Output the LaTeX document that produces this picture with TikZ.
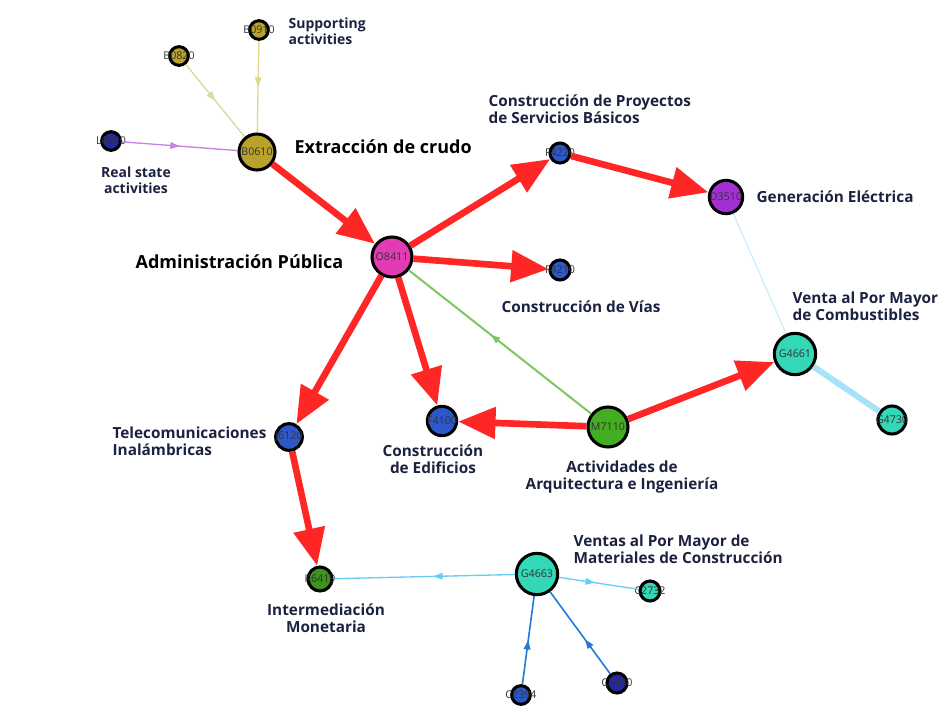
\documentclass[tikz,border=0pt]{standalone}
\usepackage{fontspec}
\setmainfont{Open Sans}
\usepackage{xcolor}
\usetikzlibrary{arrows.meta, positioning, decorations.markings}

\definecolor{rojo}{HTML}{FF2626}
\definecolor{olivo}{HTML}{B8A22C}
\definecolor{rosa}{HTML}{E23CB4}
\definecolor{azul}{HTML}{2C58C8}
\definecolor{azuloscuro}{HTML}{24289C}
\definecolor{morado}{HTML}{A230D2}
\definecolor{turquesa}{HTML}{34D8B6}
\definecolor{verde}{HTML}{44AE22}
\definecolor{tinta}{HTML}{1C2140}
\definecolor{pajizo}{HTML}{DCD88C}
\definecolor{limon}{HTML}{D2DC9C}

\newcommand{\codigo}[1]{\makebox[0pt]{#1}}

\tikzset{
  sector/.style={circle, draw=black, line width=2.3pt, inner sep=0pt,
    font=\fontsize{8}{8}\selectfont, text=black!80},
  etiqueta/.style={font=\fontsize{11.5}{13}\selectfont\bfseries, text=tinta, inner sep=1pt},
  titulo/.style={etiqueta, text=black, font=\fontsize{13.5}{15}\selectfont\bfseries},
  nota/.style={etiqueta, font=\fontsize{10.5}{12}\selectfont\bfseries},
  fuerte/.style={rojo, line width=5pt, -{Triangle[length=28pt,width=23pt]}},
  medio/.style={decoration={markings,
      mark=at position #1 with {\arrow{Triangle[length=7pt,width=5pt]}}},
    postaction={decorate}},
  medio/.default=0.5
}

\begin{document}
\begin{tikzpicture}[x=0.75pt, y=-0.75pt]
\useasboundingbox (0,0) rectangle (943,715);

% Sectores
\node[sector, fill=olivo, minimum size=27pt] (B0610) at (257,152) {\codigo{B0610}};
\node[sector, fill=olivo, minimum size=14pt] (B0910) at (259,30) {\codigo{B0910}};
\node[sector, fill=olivo, minimum size=14pt] (B0820) at (179,56) {\codigo{B0820}};
\node[sector, fill=azuloscuro, minimum size=14pt] (L6820) at (111,141) {\codigo{L6820}};
\node[sector, fill=rosa, minimum size=30pt] (O8411) at (392,257) {\codigo{O8411}};
\node[sector, fill=azul, minimum size=15pt] (F4220) at (560,153) {\codigo{F4220}};
\node[sector, fill=azul, minimum size=15pt] (F4210) at (560,270) {\codigo{F4210}};
\node[sector, fill=morado, minimum size=25pt] (D3510) at (726,197) {\codigo{D3510}};
\node[sector, fill=turquesa, minimum size=31pt] (G4661) at (795,354) {\codigo{G4661}};
\node[sector, fill=turquesa, minimum size=21pt] (G4730) at (892,420) {\codigo{G4730}};
\node[sector, fill=azul, minimum size=22pt] (F4100) at (442,421) {\codigo{F4100}};
\node[sector, fill=azul, minimum size=20pt] (J6120) at (289,437) {\codigo{J6120}};
\node[sector, fill=verde, minimum size=30pt] (M7110) at (608,427) {\codigo{M7110}};
\node[sector, fill=verde!85!black, minimum size=18pt] (K6419) at (320,579) {\codigo{K6419}};
\node[sector, fill=turquesa, minimum size=31pt] (G4663) at (537,574) {\codigo{G4663}};
\node[sector, fill=turquesa, minimum size=15pt] (C2732) at (650,591) {\codigo{C2732}};
\node[sector, fill=azul, minimum size=14pt] (C2394) at (521,695) {\codigo{C2394}};
\node[sector, fill=azuloscuro, minimum size=15pt] (C2430) at (617,683) {\codigo{C2430}};

% Etiquetas
\node[nota, align=left, anchor=west] (tB0910) at (287,31) {Supporting\\activities};
\node[nota, align=center] (tL6820) at (136,180) {Real state\\activities};
\node[titulo, anchor=west] (tB0610) at (293,147) {Extracción de crudo};
\node[titulo, anchor=east] (tO8411) at (345,262) {Administración Pública};
\node[etiqueta, align=left, anchor=west] (tF4220) at (487,109) {Construcción de Proyectos\\de Servicios Básicos};
\node[etiqueta, anchor=west] (tD3510) at (755,197) {Generación Eléctrica};
\node[etiqueta, anchor=west] (tF4210) at (500,307) {Construcción de Vías};
\node[etiqueta, align=left, anchor=west] (tG4661) at (791,306) {Venta al Por Mayor\\de Combustibles};
\node[etiqueta, align=left, anchor=west] (tJ6120) at (111,441) {Telecomunicaciones\\Inalámbricas};
\node[etiqueta, align=center] (tF4100) at (433,459) {Construcción\\de Edificios};
\node[etiqueta, align=center] (tM7110) at (622,477) {Actividades de\\Arquitectura e Ingeniería};
\node[etiqueta, align=left, anchor=west] (tG4663) at (572,549) {Ventas al Por Mayor de\\Materiales de Construcción};
\node[etiqueta, align=center] (tK6419) at (326,618) {Intermediación\\Monetaria};

% Flujos debiles
\draw[limon, line width=1pt, medio] (B0820) -- (B0610);
\draw[pajizo, line width=1pt, medio] (B0910) -- (B0610);
\draw[morado!60, line width=1pt, medio] (L6820) -- (B0610);
\draw[verde!70!white, line width=1.5pt, medio=0.55] (M7110) -- (O8411);
\draw[cyan!20, line width=1pt] (D3510) -- (G4661);
\draw[cyan!35, line width=4.5pt, medio] (G4661) -- (G4730);
\draw[cyan!60, line width=1pt, medio=0.45] (G4663) -- (K6419);
\draw[cyan!60, line width=1pt, medio=0.45] (G4663) -- (C2732);
\draw[azul!80!cyan, line width=1.2pt, medio] (C2394) -- (G4663);
\draw[azul!80!cyan, line width=1.2pt, medio=0.42] (C2430) -- (G4663);

% Flujos fuertes
\draw[fuerte] (B0610) -- (O8411);
\draw[fuerte] (O8411) -- (F4220);
\draw[fuerte] (O8411) -- (F4210);
\draw[fuerte] (O8411) -- (J6120);
\draw[fuerte] (O8411) -- (F4100);
\draw[fuerte] (F4220) -- (D3510);
\draw[fuerte] (M7110) -- (F4100);
\draw[fuerte] (M7110) -- (G4661);
\draw[fuerte] (J6120) -- (K6419);
\end{tikzpicture}
\end{document}
